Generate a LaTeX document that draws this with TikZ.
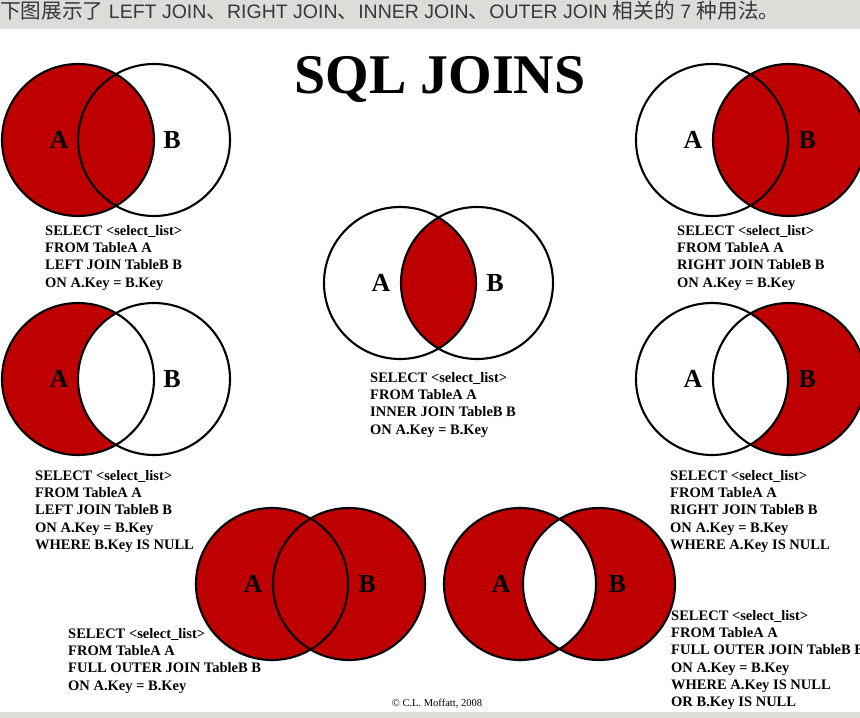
\documentclass[tikz,border=0pt]{standalone}
\usepackage{fontspec}
\setmainfont{Liberation Serif}
\newfontfamily\headsans{Liberation Sans}
\newfontfamily\cjk[Scale=1.06]{Noto Sans CJK SC}
\definecolor{joinred}{RGB}{190,0,0}
\definecolor{bargray}{RGB}{221,220,216}
\tikzset{
  ring/.style={draw=black, line width=2.1pt},
  setlabel/.style={font=\bfseries\fontsize{26}{26}\selectfont, inner sep=0pt},
  sqltext/.style={font=\bfseries\fontsize{14.5}{17.3}\selectfont, align=left, anchor=north west, inner sep=0pt},
}
\begin{document}
\begin{tikzpicture}[x=1pt, y=-1pt]
  \clip (0,0) rectangle (860,718);
  % grey bars at top and bottom
  \fill[bargray] (0,0) rectangle (860,29);
  \fill[bargray] (0,712) rectangle (860,718);
  \node[anchor=base west, inner sep=0pt, text=black!78, font=\headsans\fontsize{19.5}{20}\selectfont] (header) at (0,18.3)
    {{\cjk 下图展示了} LEFT JOIN{\cjk 、}RIGHT JOIN{\cjk 、}INNER JOIN{\cjk 、}OUTER JOIN {\cjk 相关的} 7 {\cjk 种用法。}};
  \node[anchor=base, inner sep=0pt, font=\bfseries\fontsize{56}{56}\selectfont] (title) at (440,93) {SQL JOINS};

  % centres of the seven circle pairs
  \coordinate (lA)  at (78,140);  \coordinate (lB)  at (154,140);
  \coordinate (rA)  at (712,140); \coordinate (rB)  at (789,140);
  \coordinate (iA)  at (400,283); \coordinate (iB)  at (477,283);
  \coordinate (loA) at (78,379);  \coordinate (loB) at (154,379);
  \coordinate (roA) at (712,379); \coordinate (roB) at (789,379);
  \coordinate (fA)  at (272,584); \coordinate (fB)  at (349,584);
  \coordinate (xA)  at (520,584); \coordinate (xB)  at (599,584);

  % red regions
  \fill[joinred] (lA) circle (76pt);
  \fill[joinred] (rB) circle (76pt);
  \begin{scope}
    \clip (iA) circle (76pt);
    \fill[joinred] (iB) circle (76pt);
  \end{scope}
  \fill[joinred] (loA) circle (76pt);
  \begin{scope}
    \clip (loA) circle (76pt);
    \fill[white] (loB) circle (76pt);
  \end{scope}
  \fill[joinred] (roB) circle (76pt);
  \begin{scope}
    \clip (roB) circle (76pt);
    \fill[white] (roA) circle (76pt);
  \end{scope}
  \fill[joinred] (fA) circle (76pt) (fB) circle (76pt);
  \fill[joinred, even odd rule] (xA) circle (76pt) (xB) circle (76pt);

  % outlines and set names
  \foreach \p in {l,r,i,lo,ro,f,x}{
    \draw[ring] (\p A) circle (76pt);
    \draw[ring] (\p B) circle (76pt);
    \node[setlabel, xshift=-19pt] (\p labA) at (\p A) {A};
    \node[setlabel, xshift=18pt] (\p labB) at (\p B) {B};
  }

  % queries
  \node[sqltext] (lsql) at (45,225) {SELECT <select\_list>\\FROM TableA A\\LEFT JOIN TableB B\\ON A.Key = B.Key};
  \node[sqltext] (rsql) at (677,225) {SELECT <select\_list>\\FROM TableA A\\RIGHT JOIN TableB B\\ON A.Key = B.Key};
  \node[sqltext] (isql) at (370,372) {SELECT <select\_list>\\FROM TableA A\\INNER JOIN TableB B\\ON A.Key = B.Key};
  \node[sqltext] (losql) at (35,470) {SELECT <select\_list>\\FROM TableA A\\LEFT JOIN TableB B\\ON A.Key = B.Key\\WHERE B.Key IS NULL};
  \node[sqltext] (rosql) at (670,470) {SELECT <select\_list>\\FROM TableA A\\RIGHT JOIN TableB B\\ON A.Key = B.Key\\WHERE A.Key IS NULL};
  \node[sqltext] (fsql) at (68,628) {SELECT <select\_list>\\FROM TableA A\\FULL OUTER JOIN TableB B\\ON A.Key = B.Key};
  \node[sqltext] (xsql) at (671,610) {SELECT <select\_list>\\FROM TableA A\\FULL OUTER JOIN TableB B\\ON A.Key = B.Key\\WHERE A.Key IS NULL\\OR B.Key IS NULL};

  \node[anchor=base, inner sep=0pt, font=\fontsize{10.5}{10.5}\selectfont] (credit) at (437,706.5) {\textcopyright\ C.L. Moffatt, 2008};
\end{tikzpicture}
\end{document}
